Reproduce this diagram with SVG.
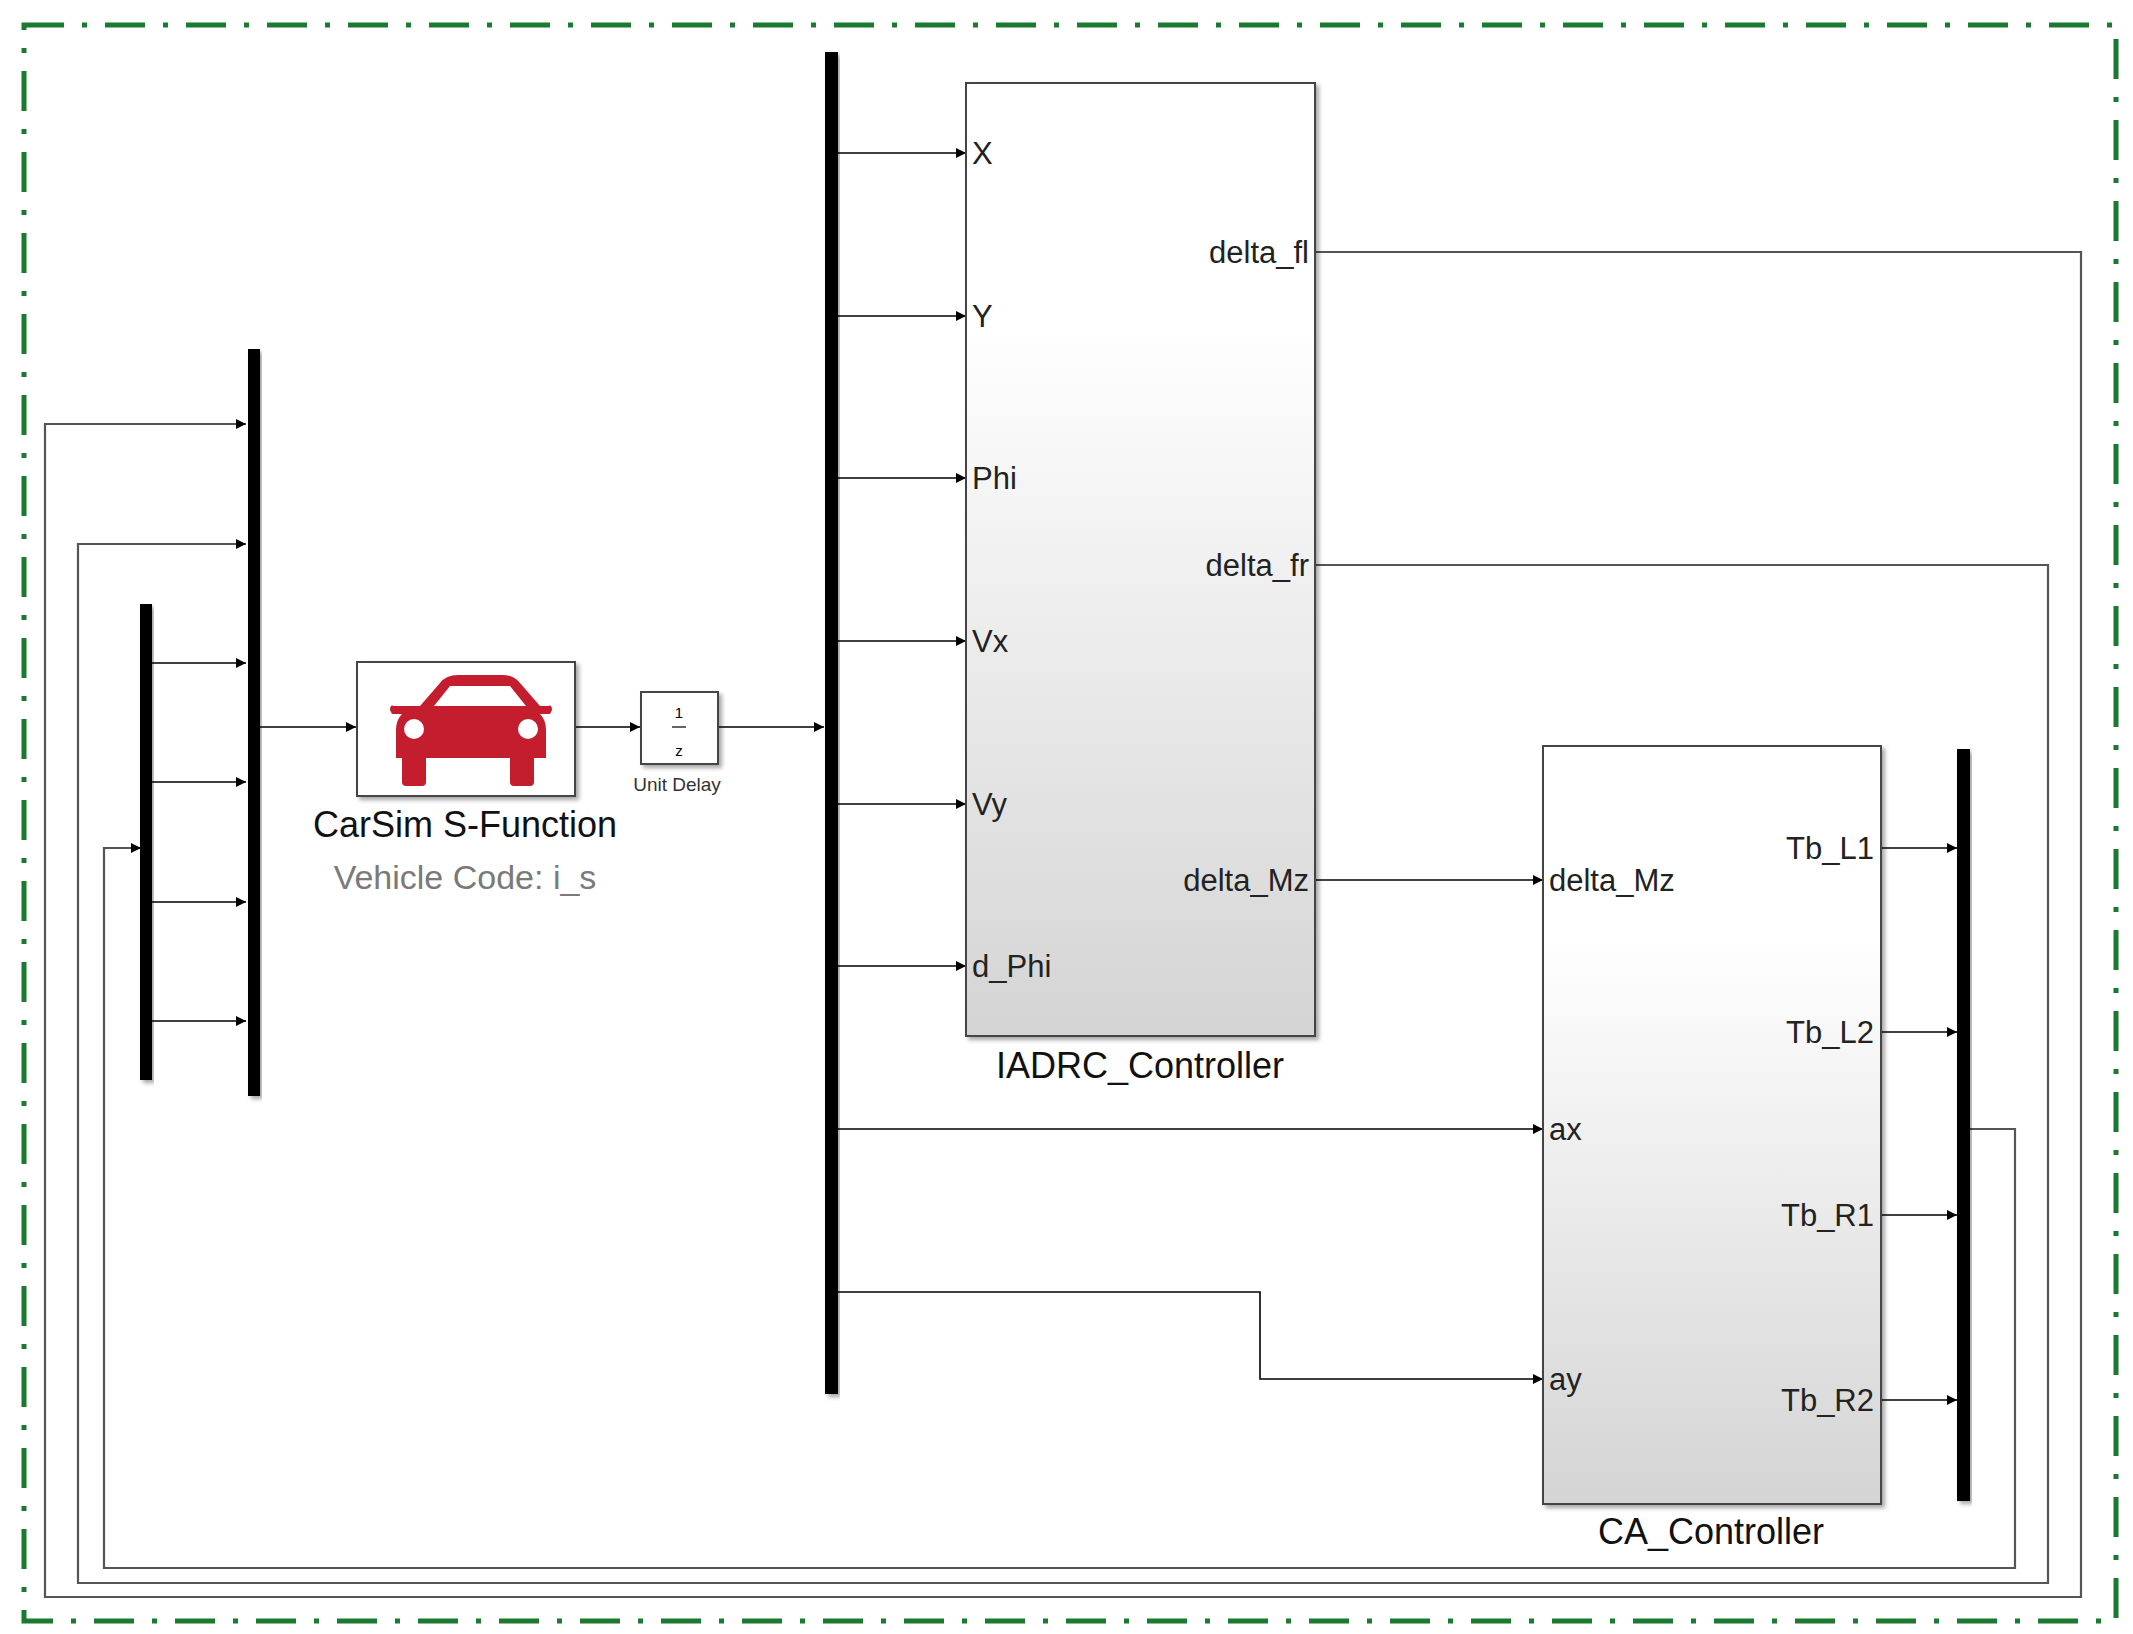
<svg xmlns="http://www.w3.org/2000/svg" width="2133" height="1634" viewBox="0 0 2133 1634">
<defs>
<marker id="a" markerWidth="10" markerHeight="10" refX="10" refY="5" orient="auto" markerUnits="userSpaceOnUse"><path d="M0,0 L10,5 L0,10 z" fill="#000"/></marker>
<linearGradient id="g" x1="0" y1="0" x2="0" y2="1"><stop offset="0.25" stop-color="#fff"/><stop offset="1" stop-color="#d4d4d4"/></linearGradient>
<filter id="sh"><feDropShadow dx="3" dy="3" stdDeviation="2" flood-opacity="0.35"/></filter>
</defs>
<style>
.w{fill:none;stroke:#000;stroke-width:1.6}
.f{fill:none;stroke:#555;stroke-width:2.2}
.bar{fill:#000}
.t{font-family:"Liberation Sans",Arial,sans-serif;font-size:31px;fill:#222}
.blk{stroke:#444;stroke-width:2}
</style>
<rect width="2133" height="1634" fill="#fff"/>
<rect x="24" y="25" width="2092" height="1596" fill="none" stroke="#1a7a30" stroke-width="5" stroke-dasharray="40,18,5,18"/>
<g id="connectors">
<path class="w" d="M152,663H246" marker-end="url(#a)"/>
<path class="w" d="M152,782H246" marker-end="url(#a)"/>
<path class="w" d="M152,902H246" marker-end="url(#a)"/>
<path class="w" d="M152,1021H246" marker-end="url(#a)"/>
<path class="f" d="M1315,252H2081V1597H45V424H246" marker-end="url(#a)"/>
<path class="f" d="M1315,565H2048V1583H78V544H246" marker-end="url(#a)"/>
<path class="f" d="M1968,1129H2015V1568H104V848H141" marker-end="url(#a)"/>
<path class="w" d="M260,727H356" marker-end="url(#a)"/>
<path class="w" d="M576,727H640" marker-end="url(#a)"/>
<path class="w" d="M719,727H824" marker-end="url(#a)"/>
<path class="w" d="M837,153H966" marker-end="url(#a)"/>
<path class="w" d="M837,316H966" marker-end="url(#a)"/>
<path class="w" d="M837,478H966" marker-end="url(#a)"/>
<path class="w" d="M837,641H966" marker-end="url(#a)"/>
<path class="w" d="M837,804H966" marker-end="url(#a)"/>
<path class="w" d="M837,966H966" marker-end="url(#a)"/>
<path class="w" d="M1315,880H1543" marker-end="url(#a)"/>
<path class="w" d="M837,1129H1543" marker-end="url(#a)"/>
<path class="w" d="M837,1292H1260V1379H1543" marker-end="url(#a)"/>
<path class="w" d="M1881,848H1957" marker-end="url(#a)"/>
<path class="w" d="M1881,1032H1957" marker-end="url(#a)"/>
<path class="w" d="M1881,1215H1957" marker-end="url(#a)"/>
<path class="w" d="M1881,1400H1957" marker-end="url(#a)"/>
</g>
<g id="mux1"><rect class="bar" x="140" y="604" width="12" height="476" filter="url(#sh)"/></g>
<g id="mux2"><rect class="bar" x="248" y="349" width="12" height="747" filter="url(#sh)"/></g>
<g id="demux"><rect class="bar" x="825" y="52" width="13" height="1342" filter="url(#sh)"/></g>
<g id="mux3"><rect class="bar" x="1957" y="749" width="13" height="752" filter="url(#sh)"/></g>
<g id="carsim">
<rect x="357" y="662" width="218" height="134" fill="#fff" class="blk" filter="url(#sh)"/>
<path fill="#c41e2e" d="M420,706 L440,683 Q446,675 458,675 L502,675 Q514,675 520,683 L540,706 L548,706 Q552,704 552,710 L550,714 L540,714 Q546,720 546,730 L546,758 L534,758 L534,782 Q534,786 530,786 L514,786 Q510,786 510,782 L510,758 L426,758 L426,782 Q426,786 422,786 L406,786 Q402,786 402,782 L402,758 L396,758 L396,730 Q396,720 402,714 L392,714 L390,710 Q390,704 394,706 Z"/>
<path fill="#fff" d="M450,686 L510,686 L526,706 L434,706 Z"/>
<circle cx="414" cy="729" r="10" fill="#fff"/>
<circle cx="528" cy="729" r="10" fill="#fff"/>
<text class="t" x="465" y="837" text-anchor="middle" style="font-size:36px;fill:#111">CarSim S-Function</text>
<text class="t" x="465" y="889" text-anchor="middle" style="font-size:34px;fill:#7a7a7a">Vehicle Code: i_s</text>
</g>
<g id="unitdelay">
<rect x="641" y="692" width="77" height="72" fill="#fff" class="blk" filter="url(#sh)"/>
<text x="679" y="718" text-anchor="middle" font-family="Liberation Sans,sans-serif" font-size="15">1</text>
<line x1="672" y1="727" x2="686" y2="727" stroke="#333" stroke-width="1.5"/>
<text x="679" y="756" text-anchor="middle" font-family="Liberation Sans,sans-serif" font-size="15">z</text>
<text x="677" y="791" text-anchor="middle" font-family="Liberation Sans,sans-serif" font-size="19" fill="#333">Unit Delay</text>
</g>
<g id="iadrc">
<rect x="966" y="83" width="349" height="953" fill="url(#g)" class="blk" filter="url(#sh)"/>
<text class="t" x="972" y="164">X</text>
<text class="t" x="972" y="327">Y</text>
<text class="t" x="972" y="489">Phi</text>
<text class="t" x="972" y="652">Vx</text>
<text class="t" x="972" y="815">Vy</text>
<text class="t" x="972" y="977">d_Phi</text>
<text class="t" x="1309" y="263" text-anchor="end">delta_fl</text>
<text class="t" x="1309" y="576" text-anchor="end">delta_fr</text>
<text class="t" x="1309" y="891" text-anchor="end">delta_Mz</text>
<text class="t" x="1140" y="1078" text-anchor="middle" style="font-size:36px;fill:#111">IADRC_Controller</text>
</g>
<g id="ca">
<rect x="1543" y="746" width="338" height="758" fill="url(#g)" class="blk" filter="url(#sh)"/>
<text class="t" x="1549" y="891">delta_Mz</text>
<text class="t" x="1549" y="1140">ax</text>
<text class="t" x="1549" y="1390">ay</text>
<text class="t" x="1874" y="859" text-anchor="end">Tb_L1</text>
<text class="t" x="1874" y="1043" text-anchor="end">Tb_L2</text>
<text class="t" x="1874" y="1226" text-anchor="end">Tb_R1</text>
<text class="t" x="1874" y="1411" text-anchor="end">Tb_R2</text>
<text class="t" x="1711" y="1544" text-anchor="middle" style="font-size:36px;fill:#111">CA_Controller</text>
</g>
</svg>
